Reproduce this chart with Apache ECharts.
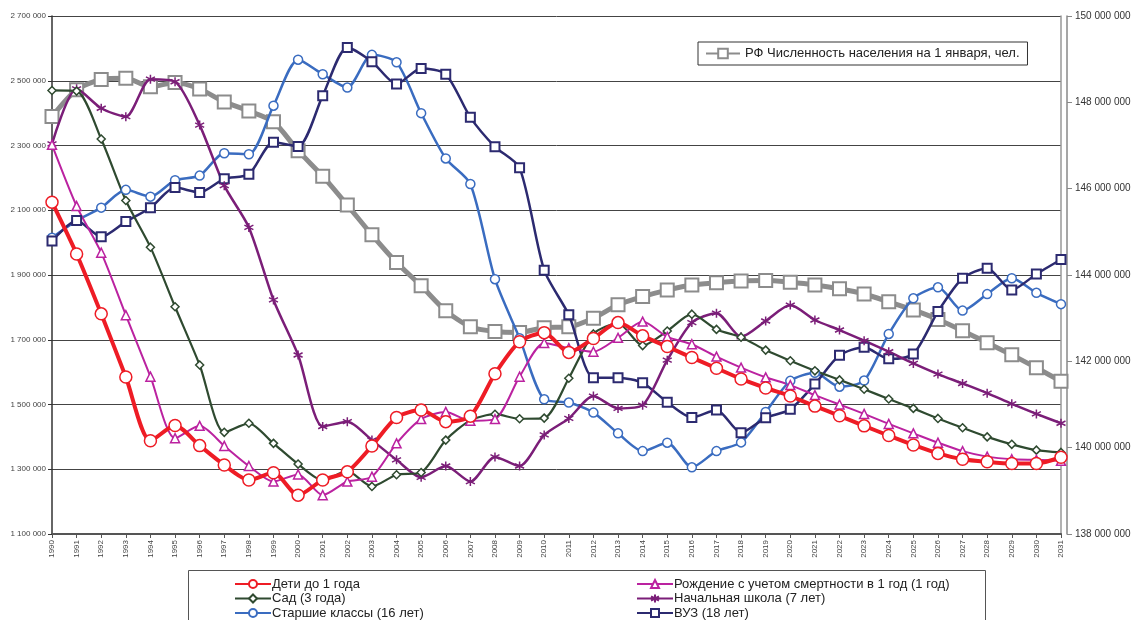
<!DOCTYPE html>
<html><head><meta charset="utf-8">
<script src="https://cdn.jsdelivr.net/npm/echarts@6/dist/echarts.min.js"></script>
<style>html,body{margin:0;padding:0;background:#fff}#c{width:1136px;height:620px}</style>
</head><body><div id="c"></div>
<script>
const years = [1990,1991,1992,1993,1994,1995,1996,1997,1998,1999,2000,2001,2002,2003,2004,2005,2006,2007,2008,2009,2010,2011,2012,2013,2014,2015,2016,2017,2018,2019,2020,2021,2022,2023,2024,2025,2026,2027,2028,2029,2030,2031];
const deti = [2125000,1965000,1780000,1585000,1388000,1435000,1373000,1313000,1267000,1289000,1220000,1267000,1292000,1372000,1460000,1483000,1447000,1464000,1595000,1694000,1722000,1661000,1704000,1753000,1712000,1679000,1645000,1612000,1579000,1551000,1526000,1495000,1465000,1434000,1404000,1375000,1349000,1331000,1323000,1318000,1318000,1337000];
const rozhdenie = [2302000,2113000,1969000,1776000,1586000,1396000,1434000,1372000,1310000,1262000,1284000,1220000,1262000,1277000,1380000,1455000,1477000,1450000,1455000,1586000,1690000,1674000,1663000,1706000,1756000,1709000,1686000,1648000,1614000,1584000,1560000,1529000,1500000,1471000,1440000,1411000,1382000,1356000,1339000,1331000,1329000,1326000];
const sad = [2470000,2468000,2320000,2130000,1986000,1802000,1622000,1414000,1442000,1380000,1316000,1266000,1294000,1247000,1283000,1290000,1390000,1451000,1470000,1456000,1458000,1581000,1718000,1751000,1682000,1727000,1779000,1732000,1708000,1668000,1635000,1604000,1576000,1547000,1517000,1488000,1457000,1428000,1400000,1377000,1359000,1352000];
const shkola = [2305000,2475000,2415000,2389000,2505000,2497000,2363000,2176000,2047000,1823000,1653000,1432000,1447000,1390000,1329000,1275000,1310000,1262000,1338000,1310000,1406000,1457000,1526000,1488000,1498000,1637000,1753000,1782000,1709000,1758000,1807000,1761000,1730000,1697000,1663000,1627000,1594000,1565000,1535000,1502000,1471000,1442000];
const starshie = [2015000,2068000,2108000,2163000,2142000,2193000,2207000,2276000,2273000,2423000,2565000,2520000,2479000,2580000,2557000,2400000,2260000,2181000,1887000,1705000,1516000,1506000,1475000,1411000,1356000,1382000,1306000,1356000,1383000,1477000,1573000,1598000,1555000,1574000,1718000,1828000,1862000,1790000,1841000,1890000,1845000,1810000];
const vuz = [2005000,2068000,2018000,2065000,2108000,2170000,2155000,2197000,2211000,2310000,2297000,2454000,2603000,2559000,2490000,2538000,2520000,2387000,2296000,2231000,1915000,1777000,1583000,1583000,1567000,1507000,1460000,1483000,1413000,1459000,1485000,1563000,1652000,1677000,1641000,1656000,1787000,1890000,1921000,1854000,1903000,1948000];
const rf = [147670000,148290000,148530000,148560000,148360000,148460000,148310000,148010000,147800000,147550000,146880000,146290000,145620000,144930000,144290000,143750000,143170000,142800000,142690000,142670000,142780000,142800000,143000000,143310000,143500000,143650000,143770000,143820000,143860000,143870000,143830000,143770000,143680000,143560000,143380000,143190000,142970000,142710000,142430000,142150000,141850000,141540000];

const LEFT_MIN = 1100000, LEFT_MAX = 2700000, LEFT_STEP = 200000;
const RIGHT_MIN = 138000000, RIGHT_MAX = 150000000, RIGHT_STEP = 2000000;

const fmt = v => String(Math.round(v)).replace(/\B(?=(\d{3})+(?!\d))/g, ' ');
const shift = arr => arr.map(v => v - LEFT_MIN);

const chart = echarts.init(document.getElementById('c'), null, {renderer: 'canvas'});
const FONT = '"Liberation Sans", Arial, sans-serif';
const asterisk = 'path://M0,-10L0,10M-8.7,-5L8.7,5M-8.7,5L8.7,-5';

function s(name, data, color, width, symbol, size, extra) {
  return Object.assign({
    name, type: 'line', data: shift(data), smooth: 0.25,
    symbol, symbolSize: size, showSymbol: true,
    lineStyle: {color, width},
    itemStyle: {color: '#fff', borderColor: color, borderWidth: 1.5},
    emphasis: {disabled: true}, animation: false, z: 3
  }, extra || {});
}

const legendBottom = {
  orient: 'vertical', top: 577, padding: 0, height: 60, width: 400,
  itemWidth: 36, itemHeight: 10, itemGap: 0.5,
  textStyle: {fontSize: 13, color: '#222', fontFamily: FONT, padding: [0, 0, 0, -4], lineHeight: 14}
};

const option = {
  animation: false,
  grid: {left: 52, right: 75, top: 16, bottom: 86, containLabel: false},
  xAxis: {
    type: 'category', data: years.map(String), boundaryGap: false,
    axisLine: {lineStyle: {color: '#555', width: 2}},
    axisTick: {show: true, length: 4, lineStyle: {color: '#555'}},
    axisLabel: {rotate: 90, fontSize: 8, color: '#444', fontFamily: FONT, margin: 6, interval: 0},
    splitLine: {show: false}
  },
  yAxis: [
    {
      type: 'value', min: 0, max: LEFT_MAX - LEFT_MIN, interval: LEFT_STEP, position: 'left',
      axisLine: {show: true, lineStyle: {color: '#333', width: 1.5}},
      axisTick: {show: true, length: 4, lineStyle: {color: '#333'}},
      axisLabel: {fontSize: 8, color: '#444', fontFamily: FONT, margin: 6, formatter: v => fmt(v + LEFT_MIN)},
      splitLine: {show: true, lineStyle: {color: '#444', width: 1}}
    },
    {
      type: 'value', min: RIGHT_MIN, max: RIGHT_MAX, interval: RIGHT_STEP, position: 'right', offset: 6,
      axisLine: {show: true, lineStyle: {color: '#888', width: 1.5}},
      axisTick: {show: true, length: 5, inside: false, lineStyle: {color: '#888'}},
      axisLabel: {fontSize: 10, color: '#333', fontFamily: FONT, margin: 8, formatter: v => fmt(v)},
      splitLine: {show: false}
    },
    {
      type: 'value', min: 0, max: 1, position: 'right', offset: 0,
      axisLine: {show: true, lineStyle: {color: '#999', width: 1.5}},
      axisTick: {show: false}, axisLabel: {show: false}, splitLine: {show: false}
    }
  ],
  legend: [
    {
      data: ['РФ Численность населения на 1 января, чел.'],
      left: 698, top: 42, padding: [5, 8, 5, 7],
      borderColor: '#333', borderWidth: 1, backgroundColor: '#fff',
      itemWidth: 34, itemHeight: 12, itemGap: 4,
      textStyle: {fontSize: 13, color: '#222', fontFamily: FONT}
    },
    Object.assign({}, legendBottom, {
      data: ['Дети до 1 года', 'Сад (3 года)', 'Старшие классы (16 лет)'], left: 234
    }),
    Object.assign({}, legendBottom, {
      data: ['Рождение с учетом смертности в 1 год (1 год)', 'Начальная школа (7 лет)', 'ВУЗ (18 лет)'], left: 636
    })
  ],
  graphic: [
    {type: 'rect', left: 186, top: 568, shape: {width: 797, height: 60},
     style: {fill: 'none', stroke: '#555', lineWidth: 1}, z: -1}
  ],
  series: [
    {
      name: 'РФ Численность населения на 1 января, чел.', type: 'line', data: rf, yAxisIndex: 1,
      smooth: 0.25, symbol: 'rect', symbolSize: 13,
      lineStyle: {color: '#8c8c8c', width: 5},
      itemStyle: {color: '#fff', borderColor: '#8c8c8c', borderWidth: 2},
      emphasis: {disabled: true}, z: 2
    },
    s('Старшие классы (16 лет)', starshie, '#3a6cc0', 2.5, 'circle', 9),
    s('ВУЗ (18 лет)', vuz, '#2c2a70', 2.5, 'rect', 9, {itemStyle: {color: '#fff', borderColor: '#2c2a70', borderWidth: 2}}),
    s('Начальная школа (7 лет)', shkola, '#7b1e78', 2.5, asterisk, 9, {itemStyle: {color: '#7b1e78', borderColor: '#7b1e78', borderWidth: 1.5}}),
    s('Сад (3 года)', sad, '#2f4a30', 2.2, 'diamond', 8),
    s('Рождение с учетом смертности в 1 год (1 год)', rozhdenie, '#bb22a0', 2, 'triangle', 9),
    s('Дети до 1 года', deti, '#ee1c25', 4, 'circle', 12, {itemStyle: {color: '#fff', borderColor: '#ee1c25', borderWidth: 1.5}})
  ]
};
chart.setOption(option);
</script>
</body></html>
